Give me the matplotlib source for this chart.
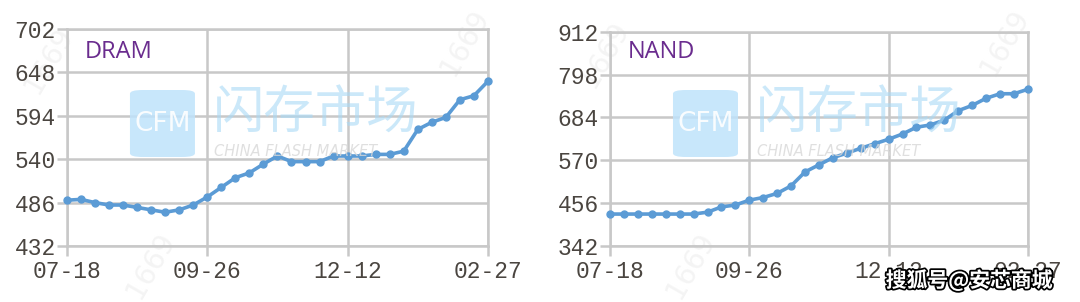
import matplotlib.pyplot as plt
import matplotlib.patheffects as pe
from matplotlib.patches import FancyBboxPatch

# weekly contract price index, 31 points each
x_labels = ['07-18', '09-26', '12-12', '02-27']
x_label_pos = [0, 10, 20, 30]

dram = [489, 490, 486, 483, 483, 480, 477, 474, 477, 483,
        493, 505, 517, 523, 534, 544, 537, 537, 537, 544,
        544, 544, 546, 546, 550, 577, 586, 592, 614, 619, 637]
nand = [427, 427, 427, 427, 427, 427, 427, 432, 446, 451,
        464, 471, 482, 502, 539, 558, 577, 589, 602, 614,
        626, 640, 658, 664, 677, 702, 716, 735, 747, 747, 759]

dram_ticks = [432, 486, 540, 594, 648, 702]
nand_ticks = [342, 456, 570, 684, 798, 912]

line_color = '#5b9bd5'
grid_color = '#c8c8c8'
label_color = '#4a4540'

fig = plt.figure(figsize=(10.8, 3.02), dpi=100)
fig.patch.set_facecolor('white')

# faint number watermarks, behind everything
for wx, wy in [(0.045, 0.80), (0.43, 0.86), (0.93, 0.86), (0.56, 0.82),
               (0.14, 0.12), (0.64, 0.12)]:
    fig.text(wx, wy, '1669', color='#f4f4f4', fontsize=20, rotation=60,
             ha='center', va='center', zorder=-5)

panels = [
    ([0.0620, 0.1854, 0.3898, 0.7185], dram, dram_ticks, 'DRAM'),
    ([0.5648, 0.1854, 0.3870, 0.7096], nand, nand_ticks, 'NAND'),
]

for rect, values, yticks, name in panels:
    ax = fig.add_axes(rect)
    ax.set_facecolor('none')
    xs = list(range(len(values)))

    ax.set_xlim(0, len(values) - 1)
    ax.set_ylim(yticks[0], yticks[-1])
    ax.set_yticks(yticks)
    ax.set_xticks(x_label_pos)
    ax.set_xticklabels(x_labels)

    ax.grid(True, color=grid_color, linewidth=1.8, zorder=0)
    for s in ax.spines.values():
        s.set_color(grid_color)
        s.set_linewidth(1.8)
    ax.tick_params(axis='both', color=grid_color, width=1.8, length=7,
                   labelcolor=label_color, labelsize=16.5)
    for lab in ax.get_xticklabels() + ax.get_yticklabels():
        lab.set_family('Liberation Mono')
    ax.tick_params(axis='x', pad=3)
    ax.tick_params(axis='y', pad=1)

    ax.plot(xs, values, color=line_color, linewidth=2.6, marker='o',
            markersize=5, zorder=5, clip_on=False)

    x0 = rect[0]
    fig.text(x0 + 18 / 1080, 1 - 52 / 302, name, color='#6a2c8e',
             fontsize=17, family='Open Sans', va='center', ha='left')

    # CFM watermark logo
    logo = FancyBboxPatch((x0 + 63 / 1080, 1 - 157 / 302), 65 / 1080, 67 / 302,
                          boxstyle='round,pad=0,rounding_size=0.012',
                          transform=fig.transFigure, facecolor='#bfe3fb',
                          edgecolor='none', alpha=0.85, zorder=1)
    fig.patches.append(logo)
    fig.text(x0 + 95.5 / 1080, 1 - 124 / 302, 'CFM', color='white',
             fontsize=19, ha='center', va='center', alpha=0.9)
    fig.text(x0 + 146 / 1080, 1 - 114 / 302, '闪存市场', color='#a9d9f6',
             fontsize=37, family='Noto Sans CJK SC', ha='left', va='center',
             alpha=0.6)
    fig.text(x0 + 147 / 1080, 1 - 151 / 302, 'CHINA FLASH MARKET', color='#d8d8d8',
             fontsize=10.5, style='italic', ha='left', va='center', alpha=0.8)

fig.text(0.8975, 0.073, '搜狐号@安芯商城', color='white', fontsize=15,
         family=['Noto Sans CJK SC', 'DejaVu Sans'], weight='bold',
         ha='center', va='center', zorder=10,
         path_effects=[pe.withStroke(linewidth=2.5, foreground='black')])

fig.savefig('out.png', dpi=100)
